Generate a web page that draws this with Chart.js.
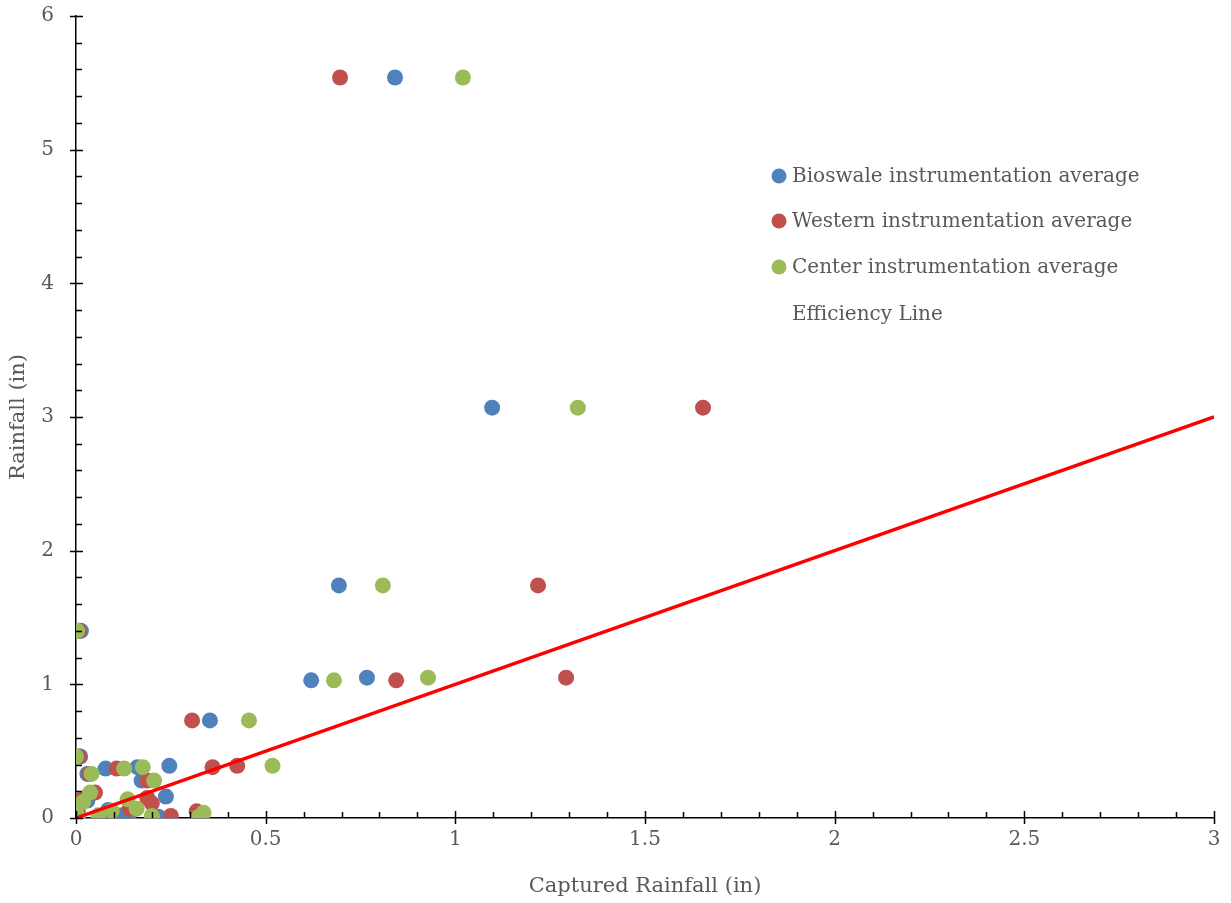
<!DOCTYPE html>
<html>
<head>
<meta charset="utf-8">
<script src="https://cdn.jsdelivr.net/npm/chart.js@4/dist/chart.umd.min.js"></script>
<style>
html,body{margin:0;padding:0;background:#fff;overflow:hidden;}
#wrap{width:1231px;height:903px;position:relative;overflow:hidden;}
#c{position:absolute;left:0;top:-18px;}
</style>
</head>
<body>
<div id="wrap"><canvas id="c" width="1231" height="921"></canvas></div>
<script>
// ---- data (captured rainfall x, rainfall y) ----
const seriesNames = ["Bioswale instrumentation average", "Western instrumentation average", "Center instrumentation average", "Efficiency Line"];

const bioswaleX = [0.841, 1.097, 0.693, 0.013, 0.767, 0.620, 0.353, 0.011, 0.246, 0.162, 0.078, 0.030, 0.173, 0.237, 0.085, 0.120, 0.138, 0.217, 0.030, 0.005];
const bioswaleY = [5.54, 3.07, 1.74, 1.40, 1.05, 1.03, 0.73, 0.46, 0.39, 0.38, 0.37, 0.33, 0.28, 0.16, 0.06, 0.02, 0.01, 0.01, 0.13, 0.05];

const westernX = [0.696, 1.653, 1.218, 0.008, 1.292, 0.844, 0.306, 0.008, 0.425, 0.360, 0.107, 0.035, 0.188, 0.050, 0.012, 0.188, 0.142, 0.200, 0.250, 0.318, 0.003];
const westernY = [5.54, 3.07, 1.74, 1.40, 1.05, 1.03, 0.73, 0.46, 0.39, 0.38, 0.37, 0.33, 0.28, 0.19, 0.135, 0.15, 0.07, 0.11, 0.015, 0.05, 0.05];

const centerX = [1.020, 1.323, 0.809, 0.003, 0.928, 0.680, 0.456, 0.000, 0.518, 0.176, 0.127, 0.041, 0.206, 0.037, 0.019, 0.136, 0.160, 0.094, 0.059, 0.200, 0.336, 0.322, 0.000, 0.005];
const centerY = [5.54, 3.07, 1.74, 1.40, 1.05, 1.03, 0.73, 0.46, 0.39, 0.38, 0.37, 0.33, 0.28, 0.19, 0.12, 0.14, 0.07, 0.055, 0.02, 0.015, 0.04, 0.005, 0.04, 0.01];

const efficiencyX = [0, 3];
const efficiencyY = [0, 3];

const xTicksMax = 3, yTicksMax = 6;

function pts(xs, ys){ return xs.map((x,i)=>({x:x, y:ys[i]})); }

const FONT = "'DejaVu Serif', 'Liberation Serif', serif";
const FS = 20;
const GREY = '#595959';
const SHIFT = 18; // canvas is shifted up by this many px

// custom axis ticks (major crossing, minor inside) and legend
const decor = {
  id:'decor',
  afterDraw(chart){
    const ctx = chart.ctx;
    const xs = chart.scales.x, ys = chart.scales.y;
    const x0 = xs.getPixelForValue(0), y0 = ys.getPixelForValue(0);
    ctx.save();
    ctx.strokeStyle = '#000';
    ctx.lineWidth = 1.5;
    ctx.beginPath();
    for(let v=0; v<=yTicksMax*5; v++){
      const py = Math.round(ys.getPixelForValue(v/5))+0.5;
      if(v%5===0){ ctx.moveTo(x0-6, py); ctx.lineTo(x0+7, py); }
      else { ctx.moveTo(x0, py); ctx.lineTo(x0+6, py); }
    }
    for(let v=0; v<=xTicksMax*10; v++){
      const px = Math.round(xs.getPixelForValue(v/10))+0.5;
      if(v%5===0){ ctx.moveTo(px, y0+6); ctx.lineTo(px, y0-7); }
      else { ctx.moveTo(px, y0); ctx.lineTo(px, y0-6); }
    }
    ctx.stroke();
    // legend
    const lx = 779, ly = [176, 221, 267, 314].map(v=>v+SHIFT);
    ctx.font = FS + 'px ' + FONT;
    ctx.textBaseline = 'middle';
    ctx.textAlign = 'left';
    chart.data.datasets.forEach((ds,i)=>{
      if(ds.showLine !== true){
        ctx.fillStyle = ds.backgroundColor;
        ctx.beginPath(); ctx.arc(lx, ly[i], 7.5, 0, Math.PI*2); ctx.fill();
      }
      ctx.fillStyle = GREY;
      ctx.fillText(ds.label, 792, ly[i]+1);
    });
    ctx.restore();
  }
};

const fmt = v => String(Math.round(v*10)/10);

new Chart(document.getElementById('c'), {
  type:'scatter',
  data:{
    datasets:[
      {label:seriesNames[0], data:pts(bioswaleX,bioswaleY), backgroundColor:'#4F81BD', borderColor:'#4F81BD', pointRadius:8, borderWidth:0, order:3},
      {label:seriesNames[1], data:pts(westernX,westernY), backgroundColor:'#C0504D', borderColor:'#C0504D', pointRadius:8, borderWidth:0, order:2},
      {label:seriesNames[2], data:pts(centerX,centerY), backgroundColor:'#9BBB59', borderColor:'#9BBB59', pointRadius:8, borderWidth:0, order:1},
      {label:seriesNames[3], data:pts(efficiencyX,efficiencyY), showLine:true, borderColor:'#FF0000', backgroundColor:'#FF0000', borderWidth:3.5, pointRadius:0, order:0}
    ]
  },
  options:{
    responsive:false,
    animation:false,
    devicePixelRatio:1,
    layout:{padding:{top:0, right:17, left:0, bottom:0}},
    plugins:{legend:{display:false}, tooltip:{enabled:false}},
    scales:{
      x:{
        type:'linear', min:0, max:xTicksMax,
        ticks:{stepSize:0.5, color:GREY, font:{family:FONT, size:FS}, padding:10, maxRotation:0, callback:fmt},
        grid:{display:false, drawOnChartArea:false, drawTicks:false},
        border:{display:true, color:'#000', width:1.5},
        title:{display:true, text:'Captured Rainfall (in)', color:GREY, font:{family:FONT, size:21}, padding:{top:11}},
        afterFit(s){ s.height = 85; }
      },
      y:{
        type:'linear', min:0, max:yTicksMax,
        ticks:{stepSize:1, color:GREY, font:{family:FONT, size:FS}, padding:22, callback:fmt},
        grid:{display:false, drawOnChartArea:false, drawTicks:false},
        border:{display:true, color:'#000', width:1.5},
        title:{display:true, text:'Rainfall (in)', color:GREY, font:{family:FONT, size:21}, padding:{top:6, bottom:3}},
        afterFit(s){ s.width = 76; }
      }
    }
  },
  plugins:[decor]
});
</script>
</body>
</html>
